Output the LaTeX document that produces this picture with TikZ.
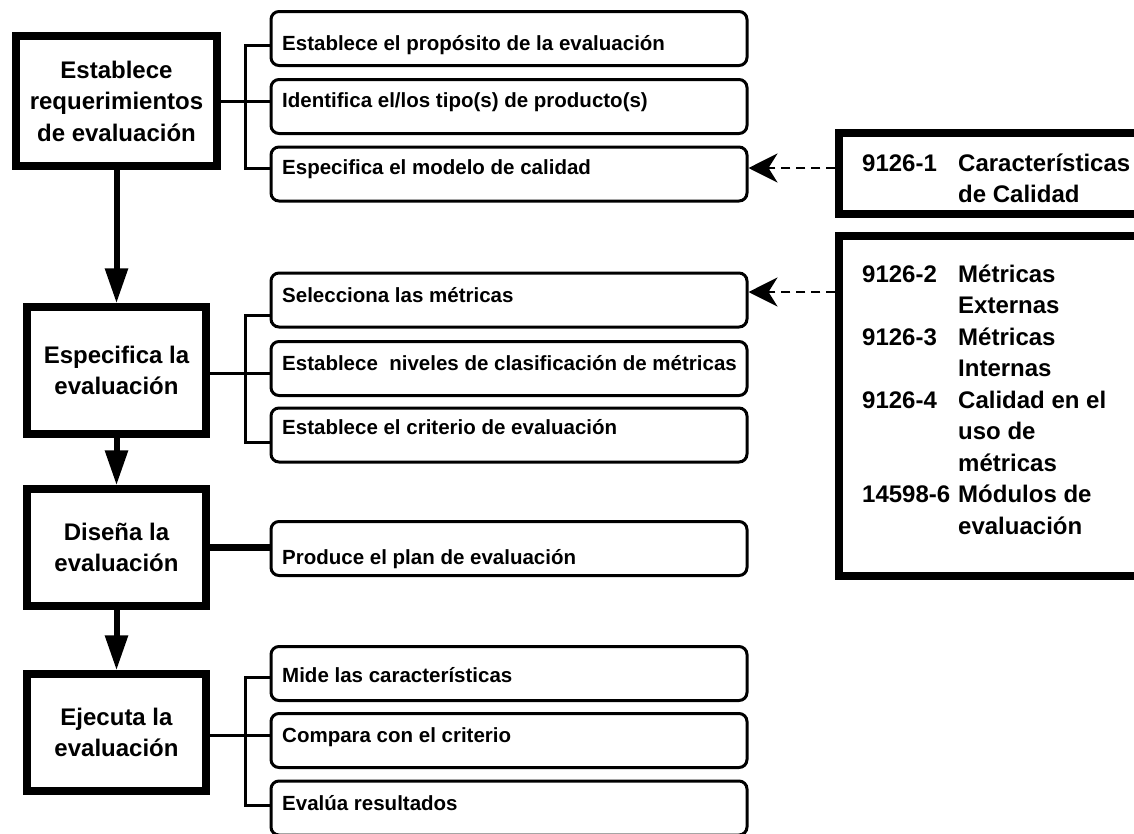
\documentclass[tikz,border=0pt]{standalone}
\usepackage{fontspec}
\setmainfont{Liberation Sans}
\usetikzlibrary{arrows.meta}
\newcommand{\stdcode}[1]{\makebox[96pt][l]{#1}}
\begin{document}
\begin{tikzpicture}[x=1pt,y=-1pt,
  stage/.style={draw, line width=7.5pt, minimum width=179pt, inner sep=0pt,
    align=center, font=\fontsize{24}{31.5}\selectfont\bfseries},
  taskbox/.style={draw, line width=3pt, rounded corners=8pt,
    minimum width=476pt, minimum height=54pt, inner sep=0pt},
  tasktext/.style={anchor=base west, inner sep=0pt,
    font=\fontsize{20.5}{24}\selectfont\bfseries},
  refbox/.style={draw, line width=7.5pt, minimum width=306pt, inner sep=0pt},
  reftext/.style={anchor=base west, inner sep=0pt,
    font=\fontsize{24}{31.5}\selectfont\bfseries},
  flow/.style={line width=6pt, -{Triangle[length=35pt,width=22pt]}},
  branch/.style={line width=3pt},
  heavy/.style={line width=7pt},
  refarrow/.style={line width=2.6pt, dash pattern=on 9pt off 6pt,
    -{Stealth[length=29pt,width=29pt,inset=9pt]}},
]
\useasboundingbox (0,0) rectangle (1134,833);
\fill[white] (0,0) rectangle (1134,833);

% main stages
\node[stage, minimum width=201pt, minimum height=130pt] (s1) at (116.5,101)
  {Establece\\requerimientos\\de evaluación};
\node[stage, minimum height=127pt] (s2) at (116.5,370.5) {Especifica la\\evaluación};
\node[stage, minimum height=117pt] (s3) at (116.5,547.5) {Diseña la\\evaluación};
\node[stage, minimum height=117pt] (s4) at (116.5,732.5) {Ejecuta la\\evaluación};

\draw[flow] (s1.south) -- (s2.north);
\draw[flow] (s2.south) -- (s3.north);
\draw[flow] (s3.south) -- (s4.north);

% tasks of each stage
\node[taskbox] (tA) at (509,38.5) {};
\node[taskbox] (tB) at (509,106.5) {};
\node[taskbox] (tC) at (509,174) {};
\node[taskbox] (tD) at (509,300) {};
\node[taskbox] (tE) at (509,368.5) {};
\node[taskbox] (tF) at (509,435) {};
\node[taskbox] (tG) at (509,548.5) {};
\node[taskbox] (tH) at (509,673.5) {};
\node[taskbox] (tI) at (509,740.5) {};
\node[taskbox] (tJ) at (509,808) {};

\node[tasktext] (lA) at (282,50) {Establece el propósito de la evaluación};
\node[tasktext] (lB) at (282,107) {Identifica el/los tipo(s) de producto(s)};
\node[tasktext] (lC) at (282,174) {Especifica el modelo de calidad};
\node[tasktext] (lD) at (282,302) {Selecciona las métricas};
\node[tasktext] (lE) at (282,370) {Establece\ \ niveles de clasificación de métricas};
\node[tasktext] (lF) at (282,434) {Establece el criterio de evaluación};
\node[tasktext] (lG) at (282,564) {Produce el plan de evaluación};
\node[tasktext] (lH) at (282,682) {Mide las características};
\node[tasktext] (lI) at (282,742) {Compara con el criterio};
\node[tasktext] (lJ) at (282,810) {Evalúa resultados};

% branch connectors
\coordinate (jA) at (245,45);
\coordinate (jB) at (245,101);
\coordinate (jC) at (245,168);
\draw[branch] (s1.east |- jB) -- (jB) -- (tB.west |- jB);
\draw[branch] (tA.west |- jA) -- (jA) -- (jC) -- (tC.west |- jC);

\coordinate (jD) at (245,315);
\coordinate (jE) at (245,373);
\coordinate (jF) at (245,442);
\draw[branch] (s2.east |- jE) -- (jE) -- (tE.west |- jE);
\draw[branch] (tD.west |- jD) -- (jD) -- (jF) -- (tF.west |- jF);

\draw[heavy] (s3.east) -- (tG.west |- s3.east);

\coordinate (jH) at (245,677);
\coordinate (jI) at (245,735);
\coordinate (jJ) at (245,805);
\draw[branch] (s4.east |- jI) -- (jI) -- (tI.west |- jI);
\draw[branch] (tH.west |- jH) -- (jH) -- (jJ) -- (tJ.west |- jJ);

% referenced standards
\node[refbox, minimum height=81pt] (r1) at (992,173.5) {};
\node[refbox, minimum height=340pt] (r2) at (992,406) {};

\node[reftext] (q1) at (862,171) {\begin{tabular}[t]{@{}l@{}l@{}}
\stdcode{9126-1} & Características\\
 & de Calidad
\end{tabular}};
\node[reftext] (q2) at (862,282) {\begin{tabular}[t]{@{}l@{}l@{}}
\stdcode{9126-2} & Métricas\\
 & Externas\\
\stdcode{9126-3} & Métricas\\
 & Internas\\
\stdcode{9126-4} & Calidad en el\\
 & uso de\\
 & métricas\\
\stdcode{14598-6} & Módulos de\\
 & evaluación
\end{tabular}};

\coordinate (kC) at (839,168);
\coordinate (kD) at (839,292);
\draw[refarrow] (r1.west |- kC) -- (tC.east |- kC);
\draw[refarrow] (r2.west |- kD) -- (tD.east |- kD);
\end{tikzpicture}
\end{document}
